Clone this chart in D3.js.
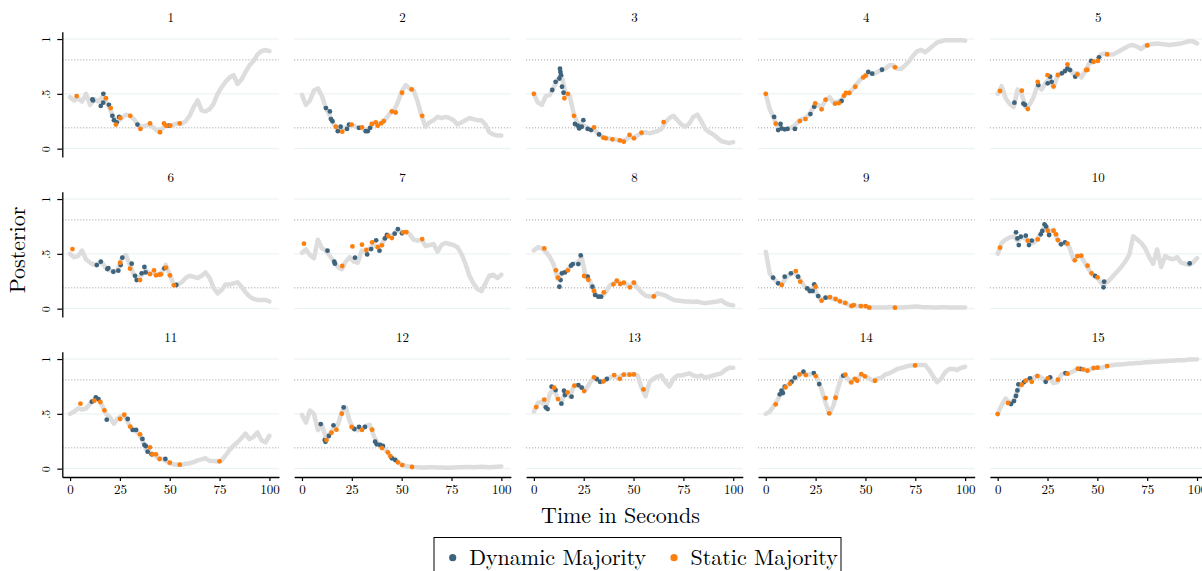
<!DOCTYPE html>
<html>
<head>
<meta charset="utf-8">
<script src="https://cdn.jsdelivr.net/npm/d3@7"></script>
<style>
  body { margin: 0; background: #fff; }
  svg { display: block; }
  text { font-family: "Latin Modern Roman", "CMU Serif", "Liberation Serif", serif; fill: #000; }
</style>
</head>
<body>
<svg id="chart" width="1202" height="571"></svg>
<script>
var traceTimes = [0,2,4,6,8,10,12,14,16,18,20,22,24,26,28,30,32,34,36,38,40,42,44,46,48,50,
  52,54,56,58,60,62,64,66,68,70,72,74,76,78,80,82,84,86,88,90,92,94,96,98,100];

var panelLabels = ["1","2","3","4","5","6","7","8","9","10","11","12","13","14","15"];
var xTicks = [0, 25, 50, 75, 100];
var yTicks = [0, 0.5, 1];
var yTickLabels = ["0", ".5", "1"];
var thresholdLines = [0.19, 0.81];
var legendLabels = ["Dynamic Majority", "Static Majority"];

// gray posterior trace, one row per panel
var tracePosterior = [
  [0.47,0.44,0.46,0.43,0.50,0.40,0.45,0.43,0.47,0.43,0.36,0.28,0.25,0.28,0.31,0.30,0.27,0.22,0.20,0.21,0.22,0.19,0.16,0.18,0.21,0.21,0.22,0.23,0.23,0.25,0.30,0.38,0.44,0.35,0.34,0.36,0.41,0.50,0.56,0.61,0.65,0.67,0.59,0.63,0.70,0.76,0.80,0.86,0.89,0.90,0.89],
  [0.49,0.40,0.44,0.53,0.55,0.48,0.37,0.30,0.22,0.17,0.17,0.19,0.21,0.21,0.19,0.19,0.16,0.19,0.23,0.22,0.24,0.27,0.32,0.34,0.42,0.52,0.58,0.55,0.53,0.43,0.30,0.20,0.24,0.26,0.29,0.28,0.29,0.28,0.26,0.22,0.24,0.26,0.28,0.27,0.26,0.26,0.22,0.15,0.13,0.12,0.12],
  [0.50,0.42,0.40,0.48,0.49,0.56,0.63,0.66,0.50,0.48,0.32,0.23,0.22,0.20,0.18,0.18,0.14,0.11,0.10,0.09,0.085,0.08,0.07,0.08,0.11,0.10,0.12,0.14,0.15,0.14,0.15,0.16,0.18,0.24,0.28,0.30,0.26,0.22,0.20,0.23,0.29,0.31,0.25,0.18,0.15,0.13,0.10,0.07,0.06,0.05,0.06],
  [0.50,0.36,0.28,0.19,0.18,0.18,0.19,0.20,0.24,0.27,0.28,0.32,0.38,0.40,0.38,0.44,0.47,0.42,0.43,0.44,0.50,0.51,0.55,0.60,0.64,0.67,0.69,0.68,0.70,0.72,0.73,0.76,0.76,0.73,0.73,0.76,0.80,0.85,0.89,0.90,0.88,0.91,0.94,0.97,0.98,0.99,0.99,0.99,0.99,0.99,0.985],
  [0.50,0.57,0.46,0.41,0.38,0.54,0.50,0.38,0.40,0.47,0.58,0.54,0.60,0.64,0.56,0.66,0.69,0.72,0.73,0.68,0.69,0.65,0.71,0.78,0.79,0.81,0.86,0.87,0.86,0.86,0.88,0.90,0.92,0.94,0.945,0.93,0.91,0.94,0.95,0.955,0.96,0.955,0.95,0.945,0.95,0.955,0.96,0.97,0.98,0.98,0.96],
  [0.50,0.47,0.48,0.53,0.45,0.42,0.40,0.41,0.42,0.37,0.35,0.34,0.36,0.46,0.49,0.40,0.31,0.27,0.31,0.35,0.32,0.33,0.31,0.33,0.40,0.31,0.22,0.22,0.24,0.28,0.30,0.29,0.28,0.30,0.33,0.28,0.19,0.14,0.17,0.22,0.22,0.23,0.24,0.20,0.15,0.11,0.09,0.08,0.08,0.08,0.065],
  [0.51,0.54,0.49,0.46,0.63,0.55,0.53,0.48,0.43,0.38,0.36,0.43,0.47,0.43,0.42,0.53,0.52,0.55,0.58,0.56,0.59,0.65,0.66,0.68,0.72,0.70,0.70,0.68,0.63,0.62,0.63,0.57,0.58,0.59,0.52,0.58,0.60,0.59,0.58,0.56,0.50,0.41,0.30,0.23,0.18,0.16,0.23,0.30,0.31,0.28,0.31],
  [0.53,0.56,0.55,0.52,0.47,0.40,0.27,0.33,0.34,0.38,0.41,0.42,0.47,0.29,0.26,0.16,0.11,0.11,0.15,0.21,0.23,0.25,0.23,0.23,0.20,0.24,0.19,0.15,0.12,0.11,0.11,0.14,0.13,0.12,0.10,0.08,0.075,0.07,0.065,0.065,0.06,0.065,0.055,0.05,0.055,0.06,0.065,0.075,0.05,0.035,0.03],
  [0.52,0.32,0.27,0.24,0.22,0.28,0.31,0.33,0.30,0.24,0.19,0.16,0.20,0.12,0.08,0.10,0.10,0.09,0.08,0.06,0.05,0.03,0.03,0.025,0.025,0.02,0.012,0.01,0.01,0.01,0.01,0.012,0.012,0.01,0.01,0.012,0.015,0.018,0.02,0.015,0.012,0.012,0.01,0.01,0.012,0.012,0.01,0.01,0.01,0.01,0.01],
  [0.50,0.60,0.63,0.65,0.66,0.62,0.65,0.64,0.60,0.60,0.64,0.70,0.76,0.70,0.72,0.63,0.59,0.60,0.56,0.45,0.48,0.47,0.41,0.35,0.30,0.28,0.23,0.23,0.26,0.30,0.34,0.38,0.43,0.49,0.66,0.63,0.60,0.55,0.47,0.41,0.54,0.38,0.48,0.46,0.45,0.47,0.42,0.41,0.40,0.42,0.46],
  [0.50,0.52,0.55,0.54,0.55,0.59,0.63,0.64,0.58,0.50,0.47,0.41,0.46,0.48,0.46,0.39,0.35,0.33,0.27,0.18,0.15,0.13,0.10,0.09,0.07,0.05,0.04,0.035,0.035,0.045,0.05,0.06,0.075,0.085,0.095,0.07,0.07,0.065,0.075,0.12,0.17,0.21,0.24,0.28,0.32,0.27,0.29,0.33,0.26,0.24,0.30],
  [0.49,0.42,0.53,0.50,0.35,0.40,0.28,0.32,0.37,0.40,0.52,0.56,0.43,0.36,0.35,0.37,0.39,0.40,0.30,0.23,0.21,0.17,0.12,0.09,0.06,0.035,0.025,0.02,0.015,0.012,0.01,0.01,0.012,0.012,0.01,0.01,0.008,0.008,0.01,0.012,0.012,0.015,0.015,0.012,0.015,0.018,0.015,0.012,0.015,0.018,0.02],
  [0.52,0.60,0.61,0.56,0.68,0.73,0.64,0.62,0.70,0.66,0.75,0.76,0.74,0.72,0.78,0.83,0.81,0.79,0.81,0.83,0.85,0.83,0.85,0.86,0.86,0.86,0.85,0.74,0.66,0.79,0.82,0.84,0.85,0.79,0.75,0.82,0.85,0.85,0.86,0.87,0.85,0.84,0.85,0.83,0.84,0.85,0.86,0.87,0.90,0.92,0.92],
  [0.50,0.52,0.57,0.63,0.70,0.75,0.77,0.81,0.84,0.87,0.86,0.86,0.87,0.82,0.72,0.60,0.50,0.58,0.72,0.84,0.85,0.80,0.81,0.82,0.86,0.84,0.82,0.80,0.82,0.83,0.86,0.87,0.89,0.91,0.92,0.93,0.94,0.94,0.945,0.945,0.945,0.90,0.84,0.79,0.82,0.88,0.91,0.91,0.90,0.92,0.93],
  [0.50,0.58,0.64,0.60,0.62,0.72,0.77,0.80,0.82,0.83,0.85,0.83,0.80,0.83,0.78,0.79,0.86,0.87,0.87,0.89,0.91,0.91,0.90,0.90,0.92,0.92,0.92,0.93,0.94,0.945,0.95,0.95,0.955,0.96,0.96,0.965,0.965,0.97,0.97,0.975,0.975,0.98,0.98,0.985,0.985,0.99,0.99,0.99,0.995,0.995,0.997]
];

// [seconds, posterior] of the dynamic-majority decisions, one list per panel
var dynamicMajority = [
  [[11.2,0.45],[11.5,0.44],[16.7,0.50],[15.4,0.39],[16.6,0.42],[19.5,0.40],[21.2,0.30],[22,0.26],[23.4,0.24],[24.6,0.29],[33.8,0.22],[49.5,0.21]],
  [[12,0.37],[14,0.34],[14.5,0.27],[15.3,0.25],[18,0.16],[19.4,0.20],[22.6,0.18],[23.6,0.22],[28.6,0.19],[32,0.16],[33,0.16],[34.2,0.19]],
  [[9.2,0.535],[10.9,0.61],[12.8,0.64],[13.1,0.73],[13.3,0.70],[13.6,0.67],[14.1,0.565],[14.9,0.51],[20.6,0.225],[22,0.21],[22.7,0.185],[24,0.20],[24.8,0.26],[27,0.18],[28.7,0.17],[32.7,0.13]],
  [[4.2,0.29],[6.2,0.17],[7.4,0.225],[7.9,0.185],[9.5,0.176],[10.9,0.18],[14.6,0.18],[22.4,0.316],[24.3,0.383],[38,0.435],[51.4,0.70],[53.4,0.684],[58.3,0.72]],
  [[8.4,0.42],[12.9,0.41],[13.7,0.40],[20.4,0.58],[25.1,0.596],[26.3,0.657],[27.1,0.61],[32.2,0.687],[33.8,0.708],[35,0.733],[36.3,0.717],[38.9,0.657],[46.9,0.80],[50.8,0.833]],
  [[13.4,0.398],[15.4,0.429],[18.7,0.362],[19.2,0.37],[21.7,0.337],[24.2,0.347],[25.4,0.398],[26.2,0.465],[30.9,0.41],[32.6,0.30],[33.4,0.261],[35.9,0.322],[37.3,0.38],[37.9,0.331],[47.3,0.368],[53.3,0.216]],
  [[12.8,0.529],[16.2,0.429],[16.5,0.41],[26.6,0.465],[32.7,0.495],[34.7,0.544],[37.2,0.623],[38.9,0.529],[41.6,0.641],[42.6,0.672],[46.5,0.684],[48.1,0.726],[50.2,0.687]],
  [[12.8,0.20],[13.4,0.261],[14.1,0.322],[15.6,0.331],[18.6,0.392],[19.5,0.407],[22.3,0.407],[23.5,0.486],[27,0.292],[29.4,0.20],[30.7,0.125],[32.4,0.109],[33.7,0.109]],
  [[3.7,0.283],[6.2,0.231],[9.5,0.292],[12.6,0.322],[16.2,0.292],[20.8,0.185],[22.1,0.161],[23.5,0.161],[24.3,0.222],[26.3,0.115],[30,0.10]],
  [[9.2,0.696],[9.9,0.641],[10.6,0.58],[11.6,0.657],[14.1,0.666],[15.7,0.58],[17.1,0.62],[21.6,0.678],[22.4,0.709],[23.5,0.769],[24.3,0.748],[25.8,0.672],[31.8,0.587],[33.8,0.605],[48.9,0.298],[53.4,0.246],[53.1,0.195],[96.3,0.413]],
  [[10.9,0.611],[12.9,0.65],[14.2,0.635],[18.4,0.447],[28.9,0.453],[31.4,0.353],[33.1,0.353],[36.3,0.271],[37.3,0.216],[38,0.205],[38.9,0.155],[40.9,0.131],[47.8,0.088]],
  [[9.4,0.407],[11.4,0.261],[11.8,0.245],[13.5,0.298],[15.8,0.395],[20.9,0.559],[26.3,0.362],[28.6,0.38],[31.6,0.38],[36.7,0.246],[37.5,0.222],[39.2,0.216],[40.6,0.207],[45.1,0.094],[46.8,0.079]],
  [[6,0.559],[6.9,0.544],[8.9,0.748],[10.9,0.717],[13.8,0.593],[15.1,0.711],[15.6,0.672],[18.9,0.657],[22.3,0.763],[24,0.739],[31.5,0.818],[33.2,0.793],[36.6,0.818]],
  [[7,0.678],[7.9,0.711],[8.6,0.69],[9.5,0.748],[12.9,0.793],[14.6,0.83],[18.9,0.884],[24.1,0.872],[26.8,0.772],[38.9,0.848]],
  [[6.7,0.59],[8.2,0.617],[9.2,0.663],[9.9,0.714],[10.4,0.769],[13.2,0.79],[16.2,0.824],[24.1,0.793],[26.3,0.833],[34,0.872],[41.5,0.91]]
];

// [seconds, posterior] of the static-majority decisions
var staticMajority = [
  [[3.3,0.48],[18,0.46],[20.4,0.37],[23,0.22],[25.2,0.28],[30.2,0.30],[35.3,0.18],[40.1,0.23],[45.1,0.15],[47.1,0.23],[48.1,0.21],[50.3,0.21],[55,0.23]],
  [[17,0.20],[20.2,0.155],[24.9,0.22],[30.1,0.195],[35,0.225],[37,0.24],[38,0.21],[39.7,0.23],[41,0.25],[45.1,0.34],[47,0.33],[50.2,0.51],[55,0.54],[60.3,0.30]],
  [[0,0.50],[15.3,0.46],[17.1,0.50],[20.1,0.30],[30.2,0.195],[34.9,0.10],[36.1,0.094],[39.4,0.085],[43.1,0.076],[45.1,0.064],[48,0.125],[50.2,0.094],[54,0.146],[65.1,0.243]],
  [[0,0.50],[5,0.228],[17.1,0.252],[19.9,0.27],[24.8,0.413],[28,0.359],[30,0.447],[34.8,0.41],[36.7,0.416],[39.2,0.483],[40.2,0.508],[41.9,0.508],[44.9,0.565],[48.9,0.65],[50.1,0.666],[64.8,0.742]],
  [[1.2,0.526],[12.1,0.529],[15.1,0.362],[20.1,0.608],[25,0.67],[28,0.568],[30.2,0.672],[35,0.769],[40,0.678],[44.4,0.717],[45,0.72],[48.1,0.793],[50.3,0.80],[54.9,0.86],[75,0.942]],
  [[1.2,0.544],[25.1,0.419],[30.1,0.365],[35.1,0.261],[40.1,0.316],[42.1,0.35],[43.1,0.304],[44.8,0.31],[45.6,0.313],[48.1,0.374],[50.1,0.304],[52.1,0.213]],
  [[1,0.593],[20.2,0.389],[25.3,0.568],[30.1,0.584],[32.3,0.535],[35.2,0.605],[38,0.562],[40.1,0.578],[43.3,0.663],[45.1,0.644],[50.7,0.696],[52.4,0.699],[60.3,0.635]],
  [[5.2,0.55],[11.1,0.35],[12.1,0.283],[17.1,0.35],[25.2,0.298],[27.3,0.264],[30.2,0.161],[35.1,0.149],[39.9,0.222],[41.6,0.255],[43.3,0.225],[45.1,0.237],[48.2,0.195],[50.2,0.237],[60.2,0.112]],
  [[8,0.216],[15.1,0.343],[17.3,0.246],[25,0.20],[28,0.073],[32.2,0.106],[35,0.088],[37.2,0.067],[39.9,0.052],[43,0.024],[44.1,0.033],[47.7,0.024],[50.1,0.024],[51.9,0.009],[64.8,0.009]],
  [[1.2,0.556],[15.1,0.62],[20.1,0.632],[25.1,0.711],[28,0.711],[29.3,0.678],[30.2,0.626],[35,0.593],[38.7,0.441],[40,0.48],[41.9,0.483],[45.1,0.392],[47.1,0.322],[50.1,0.286]],
  [[5.2,0.593],[12.2,0.62],[15.2,0.608],[17.2,0.532],[25.1,0.453],[27.2,0.492],[30.2,0.383],[35.1,0.313],[40.1,0.195],[41.3,0.131],[43.1,0.131],[44.9,0.088],[50,0.055],[55,0.036],[75,0.067]],
  [[12.3,0.261],[14.8,0.328],[17.3,0.356],[20,0.502],[24.9,0.38],[30.1,0.353],[35.2,0.356],[40.1,0.188],[43.1,0.149],[44.3,0.115],[48.1,0.058],[50.3,0.033],[55.2,0.015]],
  [[1.2,0.562],[5.2,0.629],[10.2,0.739],[12.1,0.635],[16.9,0.696],[20.3,0.757],[25.2,0.708],[30.2,0.833],[34.9,0.796],[40.3,0.854],[43.1,0.82],[45.1,0.857],[48,0.857],[50.2,0.86],[55,0.723]],
  [[5,0.587],[9.9,0.742],[12.1,0.775],[16.9,0.86],[20.1,0.854],[25.1,0.845],[30,0.644],[31.8,0.505],[35,0.647],[39.9,0.857],[42.9,0.787],[44.7,0.82],[45.9,0.802],[47.9,0.863],[49.7,0.842],[54.8,0.802],[74.9,0.942]],
  [[0,0.498],[5.2,0.599],[12.1,0.766],[14.1,0.802],[17.1,0.793],[19.9,0.845],[25.1,0.824],[30.2,0.812],[35,0.866],[40.2,0.912],[42.7,0.906],[45,0.894],[48.1,0.918],[50.1,0.921],[54.9,0.936]]
];

var colors = { dynamic: "#3e647d", static: "#fd7f0e", trace: "#dddddd" };

// panel grid
var nCols = 5,
    colStep = 231.9, rowStep = 160,
    plotLeft = 62.3, plotTop = 31.7,
    plotW = 216.7, plotH = 125.3;

var svg = d3.select("#chart");

panelLabels.forEach(function(label, i) {
  var col = i % nCols, row = Math.floor(i / nCols);
  var left = plotLeft + col * colStep, top = plotTop + row * rowStep;

  var x = d3.scaleLinear().domain([-3.9, 104.8]).range([left, left + plotW]);
  var y = d3.scaleLinear().domain([-0.076, 1.067]).range([top + plotH, top]);

  var g = svg.append("g").attr("class", "panel");

  // light gridlines
  g.selectAll("line.grid").data(yTicks).enter().append("line")
    .attr("x1", x.range()[0]).attr("x2", x.range()[1])
    .attr("y1", function(d) { return y(d); }).attr("y2", function(d) { return y(d); })
    .style("stroke", "#e8f0f0").style("stroke-width", 1);

  // dotted threshold lines
  g.selectAll("line.thr").data(thresholdLines).enter().append("line")
    .attr("x1", x.range()[0]).attr("x2", x.range()[1])
    .attr("y1", function(d) { return y(d); }).attr("y2", function(d) { return y(d); })
    .style("stroke", "#9a9a9a").style("stroke-width", 1)
    .style("stroke-dasharray", "1,2");

  // gray posterior trace
  var line = d3.line()
    .x(function(d, j) { return x(traceTimes[j]); })
    .y(function(d) { return y(d); });
  g.append("path")
    .datum(tracePosterior[i])
    .attr("d", line)
    .style("fill", "none")
    .style("stroke", colors.trace)
    .style("stroke-width", 4.5)
    .style("stroke-linejoin", "round")
    .style("stroke-linecap", "round");

  g.selectAll("circle.dyn").data(dynamicMajority[i]).enter().append("circle")
    .attr("cx", function(d) { return x(d[0]); })
    .attr("cy", function(d) { return y(d[1]); })
    .attr("r", 2.4)
    .style("fill", colors.dynamic);

  g.selectAll("circle.sta").data(staticMajority[i]).enter().append("circle")
    .attr("cx", function(d) { return x(d[0]); })
    .attr("cy", function(d) { return y(d[1]); })
    .attr("r", 2.4)
    .style("fill", colors.static);

  // panel title
  g.append("text")
    .attr("x", left + plotW / 2)
    .attr("y", top - 9.5)
    .attr("text-anchor", "middle")
    .attr("font-size", "13px")
    .text(label);

  // y axis only in the first column
  if (col === 0) {
    var yAxis = g.append("g")
      .attr("transform", "translate(" + left + ",0)")
      .call(d3.axisLeft(y).tickValues(yTicks).tickSize(5).tickSizeOuter(0)
        .tickFormat(function(d, k) { return yTickLabels[k]; }));
    yAxis.select(".domain").style("stroke", "#000").style("stroke-width", 1.3);
    yAxis.selectAll(".tick line").style("stroke", "#000").style("stroke-width", 1.2);
    yAxis.selectAll(".tick text")
      .attr("x", null).attr("dy", null)
      .attr("text-anchor", "middle")
      .attr("transform", "translate(-12,0) rotate(-90)")
      .style("font-family", "\"Latin Modern Roman\", \"CMU Serif\", \"Liberation Serif\", serif")
      .style("font-size", "12px");
  }

  // x axis only in the bottom row
  if (row === 2) {
    var xAxis = g.append("g")
      .attr("transform", "translate(0," + (top + plotH) + ")")
      .call(d3.axisBottom(x).tickValues(xTicks).tickSize(4).tickSizeOuter(0).tickPadding(4));
    xAxis.select(".domain").style("stroke", "#000").style("stroke-width", 1.3);
    xAxis.selectAll(".tick line").style("stroke", "#000").style("stroke-width", 1.2);
    xAxis.selectAll(".tick text")
      .style("font-family", "\"Latin Modern Roman\", \"CMU Serif\", \"Liberation Serif\", serif")
      .style("font-size", "13px");
  }
});

// axis titles
svg.append("text")
  .attr("transform", "translate(25,250) rotate(-90)")
  .attr("text-anchor", "middle")
  .attr("font-size", "22px")
  .text("Posterior");

svg.append("text")
  .attr("x", 620.5).attr("y", 523)
  .attr("text-anchor", "middle")
  .attr("font-size", "22px")
  .text("Time in Seconds");

// legend
var legend = svg.append("g");
legend.append("rect")
  .attr("x", 434).attr("y", 537.5)
  .attr("width", 407).attr("height", 60)
  .style("fill", "#fff").style("stroke", "#000").style("stroke-width", 1);

var legendX = [452.7, 674];
var legendColors = [colors.dynamic, colors.static];
legendLabels.forEach(function(lbl, k) {
  legend.append("circle")
    .attr("cx", legendX[k]).attr("cy", 557.7).attr("r", 3.6)
    .style("fill", legendColors[k]);
  legend.append("text")
    .attr("x", legendX[k] + 16.5).attr("y", 565)
    .attr("font-size", "22px")
    .text(lbl);
});
</script>
</body>
</html>
